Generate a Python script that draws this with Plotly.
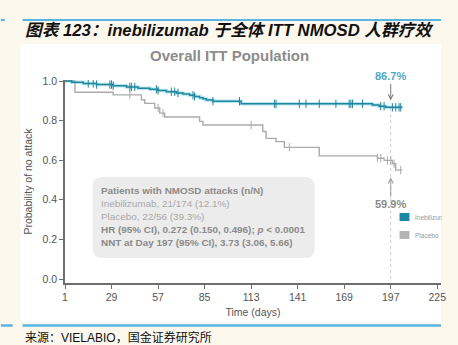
import plotly.graph_objects as go

# ---------------- data ----------------
ineb_days = [0, 5, 12, 20, 30, 38, 45, 52, 57, 62, 68, 72, 76, 79, 82, 84, 86, 90, 107, 186, 190, 194, 204]
ineb_surv = [1.0, 0.994, 0.988, 0.982, 0.976, 0.970, 0.964, 0.958, 0.952, 0.946, 0.940, 0.934, 0.928,
             0.922, 0.916, 0.910, 0.904, 0.898, 0.885, 0.879, 0.873, 0.867, 0.867]
ineb_censor = [15, 18, 20, 28, 29, 30, 40, 41, 43, 56, 57, 65, 67, 69, 78, 79, 90, 106, 127, 128, 142,
               146, 154, 164, 172, 173, 174, 180, 191, 193, 198, 200, 202, 203]

plac_days = [0, 7, 30, 47, 49, 55, 58, 61, 82, 84, 120, 122, 128, 133, 154, 189, 193, 198, 200, 204]
plac_surv = [1.0, 0.943, 0.93, 0.905, 0.887, 0.864, 0.838, 0.818, 0.796, 0.778, 0.745, 0.71, 0.694,
             0.665, 0.622, 0.61, 0.599, 0.582, 0.55, 0.55]
plac_censor = [40, 57, 60, 113, 136, 189, 191, 195, 197, 199, 203]

x_ticks = [1, 29, 57, 85, 113, 141, 169, 197, 225]
y_ticks = [0.0, 0.2, 0.4, 0.6, 0.8, 1.0]

nnt_day = 197
ineb_at_day = 0.867
plac_at_day = 0.599

box_lines = [
    "<b>Patients with NMOSD attacks (n/N)</b>",
    "Inebilizumab, 21/174 (12.1%)",
    "Placebo, 22/56 (39.3%)",
    "<b>HR (95% CI), 0.272 (0.150, 0.496); <i>p</i> &lt; 0.0001</b>",
    "<b>NNT at Day 197 (95% CI), 3.73 (3.06, 5.66)</b>",
]
box_colors = ["#8a8a8a", "#a8a8a8", "#a8a8a8", "#8a8a8a", "#8a8a8a"]

legend_names = ["Inebilizumab", "Placebo"]
TEAL = "#22869c"
GREY = "#ababab"
legend_colors = ["#1c86a6", "#b4b4b4"]

# ---------------- geometry helpers ----------------
W, H = 458, 345
L, R, T, B = 65, 446, 80, 283


def px(x):
    return (x - L) / (R - L)


def py(y):
    return (B - y) / (B - T)


def surv_at(days, surv, d):
    v = surv[0]
    for dd, s in zip(days, surv):
        if dd <= d:
            v = s
    return v


fig = go.Figure()

# dotted reference line at day 197
fig.add_trace(go.Scatter(x=[nnt_day, nnt_day], y=[0, ineb_at_day], mode="lines",
                         line=dict(color="#cfcfcf", width=1, dash="dot"), hoverinfo="skip",
                         showlegend=False))

# placebo
fig.add_trace(go.Scatter(x=plac_days, y=plac_surv, mode="lines", line_shape="hv",
                         line=dict(color=GREY, width=1.4), showlegend=False))
fig.add_trace(go.Scatter(x=plac_censor, y=[surv_at(plac_days, plac_surv, d) for d in plac_censor],
                         mode="markers", marker=dict(symbol="line-ns", size=6,
                                                     line=dict(color=GREY, width=1)),
                         showlegend=False))

# inebilizumab (glow + line)
fig.add_trace(go.Scatter(x=ineb_days, y=ineb_surv, mode="lines", line_shape="hv",
                         line=dict(color="rgba(90,200,225,0.45)", width=3.5), showlegend=False))
fig.add_trace(go.Scatter(x=ineb_days, y=ineb_surv, mode="lines", line_shape="hv",
                         line=dict(color=TEAL, width=1.5), showlegend=False))
fig.add_trace(go.Scatter(x=ineb_censor, y=[surv_at(ineb_days, ineb_surv, d) for d in ineb_censor],
                         mode="markers", marker=dict(symbol="line-ns", size=6,
                                                     line=dict(color=TEAL, width=1)),
                         showlegend=False))

shapes = []
# white panel
shapes.append(dict(type="rect", xref="paper", yref="paper", x0=px(20), x1=px(446), y0=py(322), y1=py(44),
                   fillcolor="white", line=dict(width=0), layer="below"))
# blue rules
shapes.append(dict(type="line", xref="paper", yref="paper", x0=px(22), x1=px(446), y0=py(20), y1=py(20),
                   line=dict(color="#58b4e2", width=2)))
shapes.append(dict(type="line", xref="paper", yref="paper", x0=px(0), x1=px(4), y0=py(20), y1=py(20),
                   line=dict(color="#58b4e2", width=2)))
shapes.append(dict(type="line", xref="paper", yref="paper", x0=px(22), x1=px(446), y0=py(325.5), y1=py(325.5),
                   line=dict(color="#58b4e2", width=2.5)))
shapes.append(dict(type="line", xref="paper", yref="paper", x0=px(0), x1=px(12), y0=py(325.5), y1=py(325.5),
                   line=dict(color="#58b4e2", width=2.5)))

# rounded grey box
bx0, bx1, by0, by1, r = 93, 318, 177, 258, 10
pts = [
    (bx0 + r, by0), (bx1 - r, by0), ("Q", bx1, by0, bx1, by0 + r), (bx1, by1 - r),
    ("Q", bx1, by1, bx1 - r, by1), (bx0 + r, by1), ("Q", bx0, by1, bx0, by1 - r),
    (bx0, by0 + r), ("Q", bx0, by0, bx0 + r, by0),
]
path = ""
for i, p in enumerate(pts):
    if p[0] == "Q":
        path += f" Q {px(p[1])},{py(p[2])} {px(p[3])},{py(p[4])}"
    else:
        path += (" M " if i == 0 else " L ") + f"{px(p[0])},{py(p[1])}"
path += " Z"
shapes.append(dict(type="path", xref="paper", yref="paper", path=path, fillcolor="#ececec",
                   line=dict(width=0), layer="below"))

# legend squares
for i, c in enumerate(legend_colors):
    yc = 217 + 18 * i
    shapes.append(dict(type="rect", xref="paper", yref="paper", x0=px(404), x1=px(414),
                       y0=py(yc + 4), y1=py(yc - 4), fillcolor=c, line=dict(width=0)))

ann = []
ann.append(dict(xref="paper", yref="paper", x=px(22), y=py(31), xanchor="left", yanchor="middle",
                text="<b><i>图表 123：inebilizumab 于全体 ITT NMOSD 人群疗效</i></b>", showarrow=False,
                font=dict(family="Liberation Sans, Arial, Noto Sans CJK SC", size=16.7, color="#111")))
ann.append(dict(xref="paper", yref="paper", x=px(232), y=py(55), xanchor="center", yanchor="middle",
                text="<b>Overall ITT Population</b>", showarrow=False,
                font=dict(family="Liberation Sans, Arial", size=15, color="#8c8c8c")))
ann.append(dict(xref="paper", yref="paper", x=px(22), y=py(337), xanchor="left", yanchor="middle",
                text="来源：VIELABIO，国金证券研究所", showarrow=False,
                font=dict(family="Liberation Sans, Arial, Noto Sans CJK SC", size=12, color="#111")))
for i, (t, c) in enumerate(zip(box_lines, box_colors)):
    ann.append(dict(xref="paper", yref="paper", x=px(99), y=py(190 + 13.2 * i), xanchor="left",
                    yanchor="middle", text=t, showarrow=False,
                    font=dict(family="Liberation Sans, Arial", size=9.9, color=c)))
# percent labels with arrows
ann.append(dict(x=nnt_day, y=ineb_at_day + 0.035, xref="x", yref="y", text="<b>86.7%</b>",
                showarrow=True, ax=0, ay=-24, arrowhead=5, arrowsize=1, arrowwidth=1,
                arrowcolor="#7a7a7a", font=dict(family="Liberation Sans, Arial", size=11, color="#4fa8c6")))
ann.append(dict(x=nnt_day, y=plac_at_day - 0.085, xref="x", yref="y", text="<b>59.9%</b>",
                showarrow=True, ax=0, ay=27, arrowhead=5, arrowsize=1, arrowwidth=1,
                arrowcolor="#9a9a9a", font=dict(family="Liberation Sans, Arial", size=11, color="#8a8a8a")))
# legend text
for i, n in enumerate(legend_names):
    ann.append(dict(xref="paper", yref="paper", x=px(418), y=py(217 + 18 * i), xanchor="left",
                    yanchor="middle", text=n, showarrow=False,
                    font=dict(family="Liberation Sans, Arial", size=6.5, color="#9a9a9a")))
# cream cover on the right margin
ann.append(dict(xref="paper", yref="paper", x=px(446), y=py(226), xanchor="left", yanchor="middle",
                text=" ", showarrow=False, width=14, height=40, bgcolor="#fcf8ee"))

fig.update_layout(
    width=W, height=H,
    margin=dict(l=L, r=W - R, t=T, b=H - B),
    paper_bgcolor="#fcf8ee", plot_bgcolor="rgba(0,0,0,0)",
    shapes=shapes, annotations=ann, showlegend=False,
    font=dict(family="Liberation Sans, Arial", color="#555"),
)
fig.update_xaxes(range=[1, 1 + (R - L) / 1.684], tickvals=x_ticks, ticktext=[str(v) for v in x_ticks],
                 showgrid=False, zeroline=False, showline=True, linecolor="#6e6e6e", linewidth=1.5,
                 ticks="outside", ticklen=4, tickcolor="#6e6e6e", tickfont=dict(size=10.5, color="#555"),
                 title=dict(text="Time (days)", font=dict(size=10.5, color="#555"), standoff=6))
fig.update_yaxes(range=[-4 / 198, (B - T - 4) / 198 + 0.0], tickvals=y_ticks,
                 ticktext=[f"{v:.1f}" for v in y_ticks],
                 showgrid=False, zeroline=False, showline=True, linecolor="#6e6e6e", linewidth=1.5,
                 ticks="outside", ticklen=4, tickcolor="#6e6e6e", tickfont=dict(size=10.5, color="#555"),
                 title=dict(text="Probability of no attack", font=dict(size=10.5, color="#555"), standoff=8))

fig.write_html("out.html")
